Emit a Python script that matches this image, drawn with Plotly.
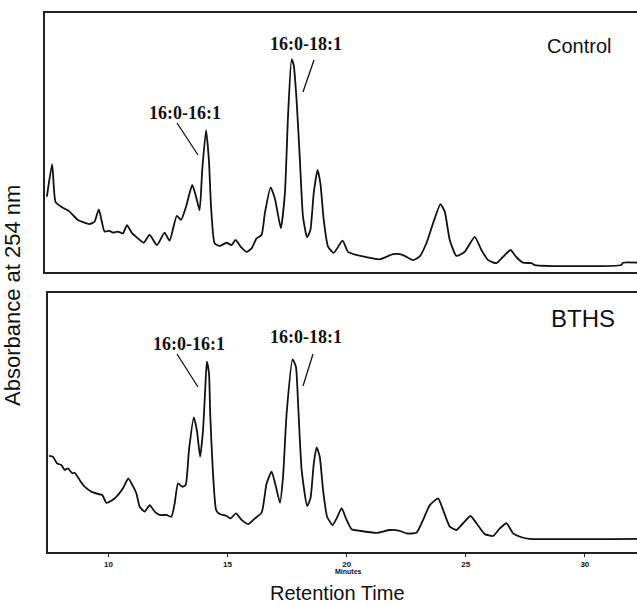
import plotly.graph_objects as go

# ---------------- data (retention time in minutes, absorbance in arbitrary units) -------------
control_time = [7.42, 7.64, 7.78, 8.02, 8.37, 8.72, 9.21, 9.42, 9.60, 9.84, 10.05, 10.19, 10.40,
                10.61, 10.78, 11.00, 11.24, 11.48, 11.73, 12.04, 12.36, 12.57, 12.87, 13.05, 13.26,
                13.52, 13.68, 13.83, 13.94, 14.10, 14.22, 14.31, 14.46, 14.67, 14.96, 15.17, 15.34,
                15.55, 15.80, 16.01, 16.22, 16.43, 16.57, 16.81, 16.99, 17.24, 17.41, 17.54, 17.69,
                17.78, 17.90, 18.04, 18.17, 18.34, 18.48, 18.62, 18.78, 18.90, 19.04, 19.22, 19.46,
                19.83, 20.06, 20.41, 20.83, 21.39, 21.95, 22.23, 22.44, 22.79, 23.06, 23.35, 23.63,
                23.94, 24.12, 24.33, 24.61, 24.96, 25.38, 25.66, 25.94, 26.29, 26.57, 26.88, 27.13,
                27.41, 27.76, 27.90, 31.53, 31.60, 32.19]
control_abs = [29.1, 41.6, 27.1, 25.2, 23.3, 20.1, 18.5, 19.4, 24.2, 15.6, 15.9, 15.2, 15.6,
               14.9, 18.1, 14.9, 13.0, 11.3, 14.3, 10.4, 15.2, 12.1, 21.7, 20.1, 25.2,
               33.6, 29.1, 23.9, 39.4, 54.8, 43.2, 25.2, 11.1, 10.0, 11.3, 10.4, 12.4,
               9.8, 7.8, 9.1, 13.0, 14.3, 22.8, 32.7, 28.4, 16.9, 30.4, 59.9, 82.1,
               79.9, 66.4, 43.2, 21.3, 13.4, 16.2, 30.4, 39.4, 34.2, 20.1, 9.8, 7.4,
               12.1, 7.8, 6.6, 5.7, 4.9, 6.9, 6.9, 6.2, 4.6, 5.9, 11.1, 18.8,
               26.2, 23.3, 12.4, 6.2, 7.8, 13.6, 8.5, 4.6, 3.4, 5.9, 8.5, 5.7,
               3.6, 3.4, 2.7, 2.7, 3.6, 3.6]

bths_time = [7.50, 7.67, 7.84, 8.02, 8.16, 8.30, 8.48, 8.58, 8.79, 9.00, 9.28, 9.56, 9.74, 9.91,
             10.12, 10.33, 10.61, 10.83, 11.00, 11.17, 11.31, 11.52, 11.73, 11.94, 12.15, 12.43,
             12.64, 12.78, 12.92, 13.10, 13.24, 13.38, 13.58, 13.71, 13.85, 13.97, 14.06, 14.13,
             14.22, 14.27, 14.38, 14.52, 14.67, 14.96, 15.13, 15.35, 15.59, 15.87, 16.15, 16.43,
             16.64, 16.85, 17.03, 17.20, 17.33, 17.48, 17.73, 17.87, 17.96, 18.11, 18.34, 18.48,
             18.62, 18.74, 18.87, 19.01, 19.18, 19.41, 19.58, 19.79, 19.97, 20.21, 20.55, 21.25,
             21.81, 22.23, 22.51, 22.93, 23.21, 23.49, 23.84, 24.05, 24.33, 24.61, 24.89, 25.20,
             25.45, 25.80, 26.15, 26.43, 26.71, 26.99, 27.34, 27.69, 32.19]
bths_abs = [37.1, 36.8, 34.2, 33.6, 31.7, 32.3, 30.4, 30.6, 27.8, 25.2, 23.3, 22.4, 22.0, 19.0,
            19.8, 21.3, 24.6, 28.4, 25.9, 22.7, 17.5, 15.6, 18.1, 15.6, 14.3, 14.3,
            13.6, 18.8, 26.5, 25.2, 25.9, 39.4, 52.0, 47.1, 36.8, 47.1, 62.5, 73.5,
            69.0, 53.5, 31.7, 16.2, 14.7, 13.9, 13.0, 14.9, 12.4, 10.8, 13.0, 15.2,
            26.5, 31.0, 25.2, 19.0, 29.1, 53.5, 74.4, 71.5, 57.4, 31.7, 17.8, 20.7,
            34.2, 40.4, 36.8, 23.9, 13.6, 10.4, 13.0, 16.9, 13.0, 8.8, 8.2, 7.4,
            8.5, 8.2, 7.2, 7.4, 12.4, 18.1, 20.7, 16.2, 9.8, 8.5, 11.1, 13.9,
            11.1, 6.9, 6.2, 9.1, 11.1, 7.2, 5.7, 5.1, 5.1]

tick_values = [10, 15, 20, 25, 30]
tick_labels = ["10", "15", "20", "25", "30"]

# ---------------- layout helpers (pixel -> paper) ----------------
W, H = 637, 606
ML, MR, MT, MB = 45, 0, 13, 54
PW, PH = W - ML - MR, H - MT - MB


def px(x):
    return (x - ML) / PW


def py(y):
    return (H - MB - y) / PH


top_dom = [py(272), py(13)]
bot_dom = [py(552), py(293)]

line_style = dict(color="#111111", width=1.8, shape="spline", smoothing=0.5)

fig = go.Figure()
fig.add_trace(go.Scatter(x=control_time, y=control_abs, mode="lines", xaxis="x2", yaxis="y2",
                         line=line_style, showlegend=False, hoverinfo="skip"))
fig.add_trace(go.Scatter(x=bths_time, y=bths_abs, mode="lines", xaxis="x", yaxis="y",
                         line=line_style, showlegend=False, hoverinfo="skip"))

axis_line = dict(showline=True, linecolor="#222222", linewidth=2, showgrid=False,
                 zeroline=False)

fig.update_layout(
    width=W, height=H,
    margin=dict(l=ML, r=MR, t=MT, b=MB, pad=0),
    paper_bgcolor="white", plot_bgcolor="white",
    xaxis=dict(domain=[px(47.5), 1], range=[7.44, 32.19], anchor="y", mirror=True,
               tickmode="array", tickvals=tick_values, ticktext=tick_labels,
               ticks="outside", ticklen=3, tickwidth=1, tickcolor="#222222",
               tickfont=dict(family="Liberation Sans", size=8, color="#111111", weight="bold"),
               **axis_line),
    yaxis=dict(domain=bot_dom, range=[0, 100], anchor="x", showticklabels=False,
               ticks="", **axis_line),
    xaxis2=dict(domain=[0, 1], range=[7.34, 32.19], anchor="y2", mirror=True,
                showticklabels=False, ticks="", **axis_line),
    yaxis2=dict(domain=top_dom, range=[0, 100], anchor="x2", showticklabels=False,
                ticks="", **axis_line),
)

serif_bold = dict(family="Liberation Serif", size=18, color="#111111", weight="bold")
sans = "Liberation Sans"

ann = []


def label(text, x, y, font, angle=0):
    ann.append(dict(text=text, x=px(x), y=py(y), xref="paper", yref="paper",
                    xanchor="center", yanchor="middle", showarrow=False, font=font,
                    textangle=angle))


label("16:0-16:1", 185, 113, serif_bold)
label("16:0-18:1", 306, 44, serif_bold)
label("16:0-16:1", 189, 344, serif_bold)
label("16:0-18:1", 306, 337, serif_bold)
label("Control", 579, 46, dict(family=sans, size=20, color="#111111"))
label("BTHS", 583, 318, dict(family=sans, size=24, color="#111111"))
label("Minutes", 348, 571, dict(family=sans, size=7, color="#111111", weight="bold"))
label("Retention Time", 337, 593, dict(family=sans, size=20, color="#111111"))
label("Absorbance at 254 nm", 13, 296, dict(family=sans, size=22, color="#111111"), angle=-90)
fig.update_layout(annotations=ann)

shapes = []
for (x0, y0, x1, y1) in [(177, 123, 198, 155), (314, 60, 303, 92),
                         (177, 354, 198, 387), (313, 354, 303, 386)]:
    shapes.append(dict(type="line", xref="paper", yref="paper", x0=px(x0), y0=py(y0),
                       x1=px(x1), y1=py(y1), line=dict(color="#111111", width=1.3)))
fig.update_layout(shapes=shapes)

fig.write_html("out.html", config={"displayModeBar": False},
               post_script="document.body.style.margin='0';"
                           "document.body.style.overflow='hidden';")
